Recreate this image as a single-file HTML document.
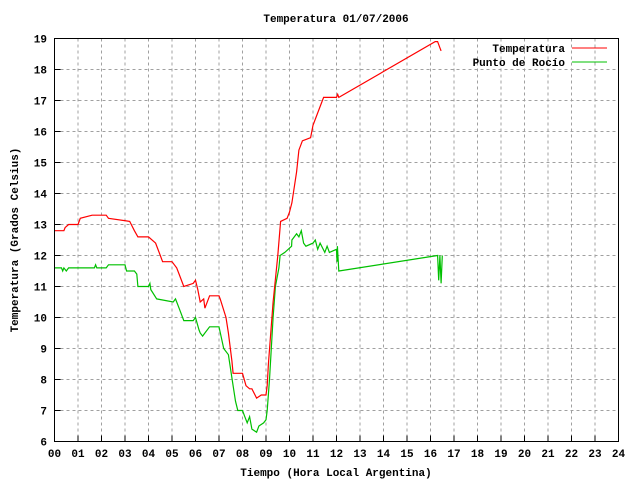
<!DOCTYPE html>
<html><head><meta charset="utf-8"><style>
body{margin:0;background:#fff}
svg text{font-family:"Liberation Mono",monospace;font-size:11px;font-weight:bold;fill:#000}
</style></head><body>
<svg id="chart" width="640" height="480" xmlns="http://www.w3.org/2000/svg">
<rect width="640" height="480" fill="#fff"/>
<g id="grid"></g>
<g id="ticks"></g>
<g id="series"></g>
<rect x="54.5" y="38.5" width="564" height="403" fill="none" stroke="#000"/>
<text x="336" y="22" text-anchor="middle">Temperatura 01/07/2006</text>
<text x="336" y="476" text-anchor="middle">Tiempo (Hora Local Argentina)</text>
<text transform="translate(18,240) rotate(-90)" text-anchor="middle">Temperatura (Grados Celsius)</text>
<g>
<text x="565" y="52" text-anchor="end">Temperatura</text>
<line x1="572" y1="48" x2="607" y2="48" stroke="#f00"/>
<text x="565" y="66" text-anchor="end">Punto de Rocío</text>
<line x1="572" y1="62" x2="607" y2="62" stroke="#00c000"/>
</g>
</svg>
<script>
const xTicks=["00","01","02","03","04","05","06","07","08","09","10","11","12","13","14","15","16","17","18","19","20","21","22","23","24"];
const yTicks=[6,7,8,9,10,11,12,13,14,15,16,17,18,19];
const tempT=[0,0.4,0.45,0.6,1.0,1.1,1.6,2.2,2.3,3.2,3.4,3.55,4.0,4.3,4.5,4.6,5.0,5.2,5.3,5.5,5.9,6.0,6.1,6.2,6.35,6.4,6.6,7.0,7.05,7.3,7.4,7.55,7.6,8.0,8.15,8.3,8.4,8.6,8.8,9.0,9.05,9.1,9.3,9.5,9.62,9.9,10.0,10.1,10.3,10.4,10.55,10.9,11.0,11.2,11.45,12.0,12.05,12.1,16.2,16.3,16.4,16.45];
const tempV=[12.8,12.8,12.9,13.0,13.0,13.2,13.3,13.3,13.2,13.1,12.8,12.6,12.6,12.4,12.0,11.8,11.8,11.6,11.4,11.0,11.1,11.2,10.9,10.5,10.6,10.3,10.7,10.7,10.6,10.0,9.5,8.6,8.2,8.2,7.8,7.7,7.7,7.4,7.5,7.5,7.8,8.5,10.5,12.0,13.1,13.2,13.4,13.7,14.7,15.4,15.7,15.8,16.2,16.6,17.1,17.1,17.2,17.1,18.9,18.9,18.7,18.6];
const dewT=[0,0.3,0.35,0.4,0.5,0.6,1.0,1.7,1.75,1.8,2.2,2.3,3.0,3.07,3.4,3.5,3.55,4.0,4.06,4.1,4.35,5.05,5.15,5.3,5.5,5.9,6.0,6.15,6.2,6.3,6.4,6.6,7.0,7.2,7.4,7.6,7.7,7.8,8.0,8.1,8.2,8.3,8.4,8.6,8.7,8.9,9.0,9.05,9.15,9.3,9.4,9.55,9.6,9.8,10.09,10.1,10.3,10.4,10.5,10.6,10.7,11.0,11.1,11.2,11.3,11.5,11.6,11.7,12.0,12.02,12.04,12.1,16.3,16.35,16.4,16.45,16.5];
const dewV=[11.6,11.6,11.5,11.6,11.5,11.6,11.6,11.6,11.7,11.6,11.6,11.7,11.7,11.5,11.5,11.4,11.0,11.0,11.1,10.9,10.6,10.5,10.6,10.3,9.9,9.9,10.0,9.6,9.5,9.4,9.5,9.7,9.7,9.0,8.8,7.8,7.3,7.0,7.0,6.8,6.6,6.8,6.4,6.3,6.5,6.6,6.7,7.0,8.0,10.0,11.0,11.6,12.0,12.1,12.3,12.5,12.7,12.6,12.8,12.4,12.3,12.4,12.5,12.2,12.4,12.1,12.3,12.1,12.2,11.8,12.3,11.5,12.0,11.2,12.0,11.1,12.0];
const X0=54.5,X1=618.5,Y0=441.5,Y1=38.5,xMin=0,xMax=24,yMin=6,yMax=19;
const xs=v=>X0+(v-xMin)/(xMax-xMin)*(X1-X0);
const ys=v=>Y0-(v-yMin)/(yMax-yMin)*(Y0-Y1);
const NS="http://www.w3.org/2000/svg";
function mk(tag,attrs,parent){const e=document.createElementNS(NS,tag);for(const k in attrs)e.setAttribute(k,attrs[k]);parent.appendChild(e);return e;}
const grid=document.getElementById('grid'),ticks=document.getElementById('ticks'),series=document.getElementById('series'),svg=document.getElementById('chart');
xTicks.forEach((t,i)=>{const x=xs(i);
 if(i>0&&i<xTicks.length-1){const g=mk('line',{x1:x,y1:Y1,x2:x,y2:Y0,stroke:'#a0a0a0','stroke-dasharray':'3,3'},grid);
 
 }
 const tk=mk('line',{x1:x,y1:Y0,x2:x,y2:Y0-6,stroke:'#000'},ticks);
 
 
 const tx=mk('text',{x:x,y:457,'text-anchor':'middle'},svg);tx.textContent=t;
 
 
});
yTicks.forEach(v=>{const y=ys(v);
 if(v>yMin&&v<yMax){const g=mk('line',{x1:X0,y1:y,x2:X1,y2:y,stroke:'#a0a0a0','stroke-dasharray':'3,3'},grid);
 
 }
 const tk=mk('line',{x1:X0,y1:y,x2:X0+6,y2:y,stroke:'#000'},ticks);
 
 
 const tx=mk('text',{x:47,y:y+4,'text-anchor':'end'},svg);tx.textContent=v;
 
 
});
function line(T,V,color,name){const pts=T.map((t,i)=>xs(t).toFixed(1)+','+ys(V[i]).toFixed(1)).join(' ');
 const p=mk('polyline',{points:pts,fill:'none',stroke:color,'stroke-width':1.2},series);
 
 }
line(dewT,dewV,'#00c000','dew-point-line');
line(tempT,tempV,'#ff0000','temperature-line');
</script>
</body></html>
